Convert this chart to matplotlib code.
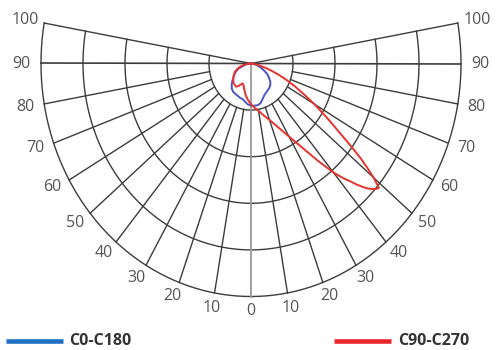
import numpy as np
import matplotlib
matplotlib.use("Agg")
import matplotlib.pyplot as plt

# ---- data (polar angle gamma from nadir, intensity in arbitrary units; rings every 100) ----
blue_angles = [0, 5, 10, 15, 20, 25, 30, 35, 40, 45, 50, 55, 60, 65, 70, 75, 80, 85, 90]
blue_c0 = [90, 91, 91, 88, 81, 75, 72, 70, 68, 65, 60, 52, 44, 33, 25, 15, 8, 4, 0]
blue_c180 = [90, 88, 83, 79, 78, 76, 75, 74, 71, 65, 58, 51, 45, 39, 31, 19, 12, 6, 0]

red_angles_c90 = [0, 5, 10, 15, 20, 25, 30, 32.5, 35, 37.5, 40, 41, 42, 43, 44, 45, 46, 47,
                  48, 48.7, 49, 49.5, 50, 51, 52, 53, 54, 55, 56, 57, 58, 60, 62.5, 65,
                  67.5, 70, 72.5, 75, 80, 85, 90]
red_c90 = [88, 95, 103, 115, 129, 150, 181, 202, 229, 265, 305, 319, 333, 345, 360, 374, 386, 395,
           402, 405, 401, 390, 381, 357, 333, 305, 279, 255, 236, 219, 202, 174, 140, 114,
           90, 69, 50, 36, 17, 5, 0]
red_angles_c270 = [0, 5, 10, 15, 20, 25, 30, 35, 40, 45, 50, 55, 60, 65, 70, 75, 80, 85, 90]
red_c270 = [87, 79, 70, 60, 51, 47, 54, 61, 60, 59, 55, 51, 47, 42, 35, 27, 18, 8, 0]

ring_values = [100, 200, 300, 400, 500]
angle_labels = [0, 10, 20, 30, 40, 50, 60, 70, 80, 90, 100]
legend_labels = ["C0-C180", "C90-C270"]

# ---- figure ----
fig = plt.figure(figsize=(4.96, 3.5), dpi=100)
ax = fig.add_axes([0, 0, 1, 1])
ax.axis("off")
sx, sy = 0.42, 0.466
cx, cy = 251, 63.5
ax.set_xlim((0 - cx) / sx, (496 - cx) / sx)
ax.set_ylim(-(350 - cy) / sy, -(0 - cy) / sy)

grid_c = "#3c3c3c"
lw = 1.0

def pt(r, g_deg):
    g = np.radians(g_deg)
    return r * np.sin(g), -r * np.cos(g)

# rings
t = np.linspace(-100, 100, 400)
for rv in ring_values:
    x, y = pt(rv, t)
    ax.plot(x, y, color=grid_c, lw=lw, zorder=1)

# spokes every 10 deg from inner ring to outer ring
for a in range(10, 90, 10):
    for s in (-1, 1):
        x, y = pt(np.array([ring_values[0], ring_values[-1]]), s * a)
        ax.plot(x, y, color=grid_c, lw=lw, zorder=1)
# 90 line across, 100 lines from center
x, y = pt(np.array([-ring_values[-1], ring_values[-1]]), 90)
ax.plot(x, y, color=grid_c, lw=1.2, zorder=1)
for s in (-1, 1):
    x, y = pt(np.array([0, ring_values[-1]]), s * 100)
    ax.plot(x, y, color=grid_c, lw=lw, zorder=1)
# 0 line
x, y = pt(np.array([0, ring_values[-1]]), 0)
ax.plot(x, y, color="#9a9a9a", lw=1.3, zorder=1)

# labels
rx_lab, ry_lab = 546, 532
for a in angle_labels:
    sides = (-1, 1) if a != 0 else (1,)
    for s in sides:
        g = np.radians(s * a)
        x = rx_lab * np.sin(g)
        y = -ry_lab * np.cos(g)
        ax.text(x, y, str(a), ha="center", va="center", fontsize=11.5,
                color="#555555", family="Open Sans")

# curves
def curve(ang_l, val_l, ang_r, val_r):
    al = -np.array(ang_l[::-1], float)
    vl = np.array(val_l[::-1], float)
    ar = np.array(ang_r, float)
    vr = np.array(val_r, float)
    a = np.concatenate([al, ar])
    v = np.concatenate([vl, vr])
    return pt(v, a)

bx, by = curve(blue_angles, blue_c180, blue_angles, blue_c0)
ax.plot(bx, by, color="#4656c4", lw=1.4, zorder=3, solid_joinstyle="round")
rx, ry = curve(red_angles_c270, red_c270, red_angles_c90, red_c90)
ax.plot(rx, ry, color="#e8322c", lw=1.4, zorder=3, solid_joinstyle="round")

# legend
ly = 1 - 341 / 350
ax.plot([6 / 496, 63 / 496], [ly, ly], transform=ax.transAxes, color="#1f6fc4", lw=3.3, solid_capstyle="butt")
ax.text(69 / 496, ly, legend_labels[0], transform=ax.transAxes, ha="left", va="center",
        fontsize=11.5, fontweight="bold", color="#333333", family="Open Sans")
ax.plot([334 / 496, 391 / 496], [ly, ly], transform=ax.transAxes, color="#e8262a", lw=3.3, solid_capstyle="butt")
ax.text(398 / 496, ly, legend_labels[1], transform=ax.transAxes, ha="left", va="center",
        fontsize=11.5, fontweight="bold", color="#333333", family="Open Sans")

fig.savefig("out.png", dpi=100, facecolor="white")
